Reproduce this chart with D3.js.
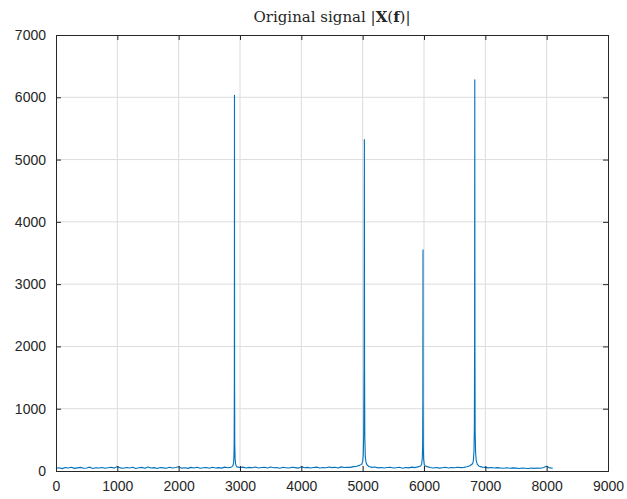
<!DOCTYPE html>
<html>
<head>
<meta charset="utf-8">
<script src="https://cdn.jsdelivr.net/npm/d3@7"></script>
<style>
  body { margin: 0; background: #fff; }
  svg { display: block; }
  .tick text { font-family: "Liberation Sans", Arial, sans-serif; font-size: 14px; fill: #262626; }
</style>
</head>
<body>
<svg id="chart" width="627" height="499"></svg>
<script>
// Ticks
const xTicks = [0, 1000, 2000, 3000, 4000, 5000, 6000, 7000, 8000, 9000];
const yTicks = [0, 1000, 2000, 3000, 4000, 5000, 6000, 7000];

// Noise floor [frequency, magnitude]
const ruido1 = [
  [0,45],[50,52],[100,38],[150,55],[200,47],[250,60],[300,42],[350,50],[400,58],[450,44],
  [500,49],[550,62],[600,40],[650,53],[700,47],[750,57],[800,43],[850,51],[900,60],[950,46],
  [1000,72],[1050,50],[1100,44],[1150,56],[1200,48],[1250,61],[1300,41],[1350,52],[1400,58],[1450,45],
  [1500,63],[1550,47],[1600,54],[1650,40],[1700,57],[1750,50],[1800,44],[1850,59],[1900,48],[1950,55],
  [2000,68],[2050,46],[2100,53],[2150,42],[2200,58],[2250,49],[2300,61],[2350,45],[2400,52],[2450,57],
  [2500,43],[2550,60],[2600,48],[2650,54],[2700,46],[2750,62],[2800,51],[2850,58]
];
const pico1 = [
  [2870,70],[2885,85],[2895,130],[2901,220],[2905,450],[2908,1500],[2910,6030],[2912,1400],
  [2915,420],[2920,200],[2927,120],[2937,85]
];
const ruido2 = [
  [2950,66],[3000,55],[3050,62],[3100,48],[3150,58],[3200,52],[3250,65],[3300,47],[3350,56],[3400,60],
  [3450,49],[3500,63],[3550,51],[3600,57],[3650,45],[3700,59],[3750,53],[3800,48],[3850,61],[3900,54],
  [3950,46],[4000,70],[4050,52],[4100,58],[4150,47],[4200,55],[4250,62],[4300,49],[4350,57],[4400,51],
  [4450,63],[4500,54],[4550,60],[4600,48],[4650,66],[4700,55],[4750,61],[4800,58],[4850,70],[4900,75],
  [4950,90]
];
const pico2 = [
  [4985,110],[5000,150],[5010,250],[5017,600],[5023,1800],[5028,5320],[5031,1700],[5035,550],
  [5043,230],[5054,140],[5070,100]
];
const ruido3 = [
  [5100,72],[5150,58],[5200,63],[5250,50],[5300,57],[5350,48],[5400,55],[5450,61],[5500,47],[5550,53],
  [5600,59],[5650,45],[5700,56],[5750,50],[5800,62],[5850,54],[5900,66],[5945,80]
];
const pico3 = [
  [5962,110],[5972,200],[5978,420],[5981,1200],[5984,3550],[5986,1100],[5989,380],[5995,180],
  [6005,105],[6020,85]
];
const ruido4 = [
  [6050,70],[6100,55],[6150,49],[6200,57],[6250,46],[6300,53],[6350,59],[6400,48],[6450,55],[6500,51],
  [6550,60],[6600,54],[6650,58],[6700,68],[6750,85]
];
const pico4 = [
  [6795,120],[6806,180],[6815,320],[6821,700],[6825,2000],[6828,6280],[6831,1900],[6834,650],
  [6841,300],[6851,170],[6868,110]
];
const ruido5 = [
  [6900,75],[6950,62],[7000,58],[7050,50],[7100,56],[7150,47],[7200,54],[7250,49],[7300,45],[7350,52],
  [7400,43],[7450,50],[7500,46],[7550,41],[7600,48],[7650,44],[7700,40],[7750,47],[7800,42],[7850,49],
  [7900,45],[7950,56],[8000,75],[8050,50],[8100,44]
];
const espectro = [].concat(ruido1, pico1, ruido2, pico2, ruido3, pico3, ruido4, pico4, ruido5);

const svg = d3.select("#chart");
const margen = { top: 35, right: 19, bottom: 28, left: 56 };
const ancho = 627 - margen.left - margen.right;
const alto = 499 - margen.top - margen.bottom;

const x = d3.scaleLinear().domain([0, 9000]).range([0, ancho]);
const y = d3.scaleLinear().domain([0, 7000]).range([alto, 0]);

const g = svg.append("g").attr("transform", `translate(${margen.left},${margen.top})`);

// Rejilla
g.append("g").selectAll("line").data(xTicks.slice(1, -1)).enter().append("line")
  .attr("x1", d => x(d)).attr("x2", d => x(d)).attr("y1", 0).attr("y2", alto)
  .attr("stroke", "#dcdcdc").attr("stroke-width", 1);
g.append("g").selectAll("line").data(yTicks.slice(1, -1)).enter().append("line")
  .attr("y1", d => y(d)).attr("y2", d => y(d)).attr("x1", 0).attr("x2", ancho)
  .attr("stroke", "#dcdcdc").attr("stroke-width", 1);

// Señal
const linea = d3.line().x(d => x(d[0])).y(d => y(d[1]));
g.append("path").datum(espectro)
  .attr("d", linea)
  .attr("fill", "none")
  .attr("stroke", "#0072BD")
  .attr("stroke-width", 1.1)
  .attr("stroke-linejoin", "round");

// Ejes (ticks hacia dentro, como MATLAB)
const ejeX = g.append("g").attr("transform", `translate(0,${alto})`)
  .call(d3.axisBottom(x).tickValues(xTicks).tickFormat(d3.format("d")).tickSize(-5).tickPadding(10));
const ejeY = g.append("g")
  .call(d3.axisLeft(y).tickValues(yTicks).tickFormat(d3.format("d")).tickSize(-5).tickPadding(10));
const ejeTop = g.append("g")
  .call(d3.axisTop(x).tickValues(xTicks).tickFormat("").tickSize(-5));
const ejeDer = g.append("g").attr("transform", `translate(${ancho},0)`)
  .call(d3.axisRight(y).tickValues(yTicks).tickFormat("").tickSize(-5));

[ejeX, ejeY, ejeTop, ejeDer].forEach(e => {
  e.select(".domain").attr("stroke", "#262626").attr("stroke-width", 1);
  e.selectAll(".tick line").attr("stroke", "#262626");
});

// Título
const titulo = svg.append("text")
  .attr("x", margen.left + ancho / 2)
  .attr("y", 22)
  .attr("text-anchor", "middle")
  .attr("font-family", "'DejaVu Serif', 'Liberation Serif', serif")
  .attr("font-size", 15)
  .attr("fill", "#262626");
titulo.append("tspan").text("Original signal |");
titulo.append("tspan").attr("font-weight", "bold").text("X");
titulo.append("tspan").text("(");
titulo.append("tspan").attr("font-weight", "bold").text("f");
titulo.append("tspan").text(")|");
</script>
</body>
</html>
